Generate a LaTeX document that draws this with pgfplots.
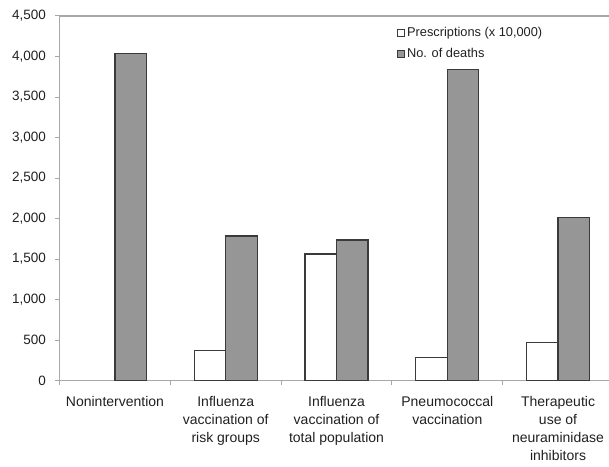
\documentclass[border=0pt]{standalone}
\usepackage{pgfplots}
\pgfplotsset{compat=1.18}
\usepackage{fontspec}
\setmainfont{Liberation Sans}
\definecolor{barg}{HTML}{969696}
\definecolor{edge}{HTML}{3A3A3A}
\definecolor{axg}{HTML}{A8A8A8}
\definecolor{txt}{HTML}{202020}
\begin{document}
\begin{tikzpicture}
\begin{axis}[
  scale only axis, width=549.4pt, height=364.7pt,
  xmin=-0.5, xmax=4.46, ymin=0, ymax=4500,
  ybar=0pt, bar width=31.5pt,
  axis x line*=bottom, axis y line*=left,
  axis line style={axg, line width=1.5pt},
  tick align=outside,
  major tick length=4.5pt,
  tick style={axg, line width=1pt},
  ytick={0,500,...,4500},
  /pgf/number format/1000 sep={,},
  /pgf/number format/assume math mode=true,
  yticklabel style={font=\fontsize{13.5}{15}\selectfont, text=txt, inner sep=0pt, xshift=-9pt},
  xtick={-0.5,0.5,1.5,2.5,3.5},
  xticklabels={},
  extra x ticks={0,1,2,3,4},
  extra x tick labels={Nonintervention, {Influenza\\vaccination of\\risk groups}, {Influenza\\vaccination of\\total population}, {Pneumococcal\\vaccination}, {Therapeutic\\use of\\neuraminidase\\inhibitors}},
  extra x tick style={major tick length=0pt, xticklabel style={align=center, anchor=north, inner sep=0pt, yshift=-15pt, font=\fontsize{14}{18.3}\selectfont, text=txt}},
  legend style={draw=none, fill=none, at={(0.613,0.975)}, anchor=north west, font=\fontsize{12.8}{13}\selectfont, text=txt, row sep=6.5pt, inner sep=0pt, /tikz/every even column/.append style={column sep=0pt}},
  legend cell align=left,
  legend image code/.code={\draw[#1, line width=1pt] (0pt,-3.5pt) rectangle (7.5pt,3.5pt);},
  after end axis/.code={\draw[axg, line width=1.5pt] (rel axis cs:0,1) -- (rel axis cs:1,1);},
]
\addplot[fill=white, draw=edge, line width=1.2pt] coordinates {(1,370) (2,1563) (3,289) (4,474)};
\addplot[fill=barg, draw=edge, line width=1.2pt] coordinates {(0,4040) (1,1786) (2,1736) (3,3843) (4,2016)};
\legend{{Prescriptions (x 10,000)}, {No. of deaths}}
\end{axis}
\pgfresetboundingbox
\useasboundingbox (-59.6pt,-85.3pt) rectangle (549.4pt,380.7pt);
\end{tikzpicture}
\end{document}
